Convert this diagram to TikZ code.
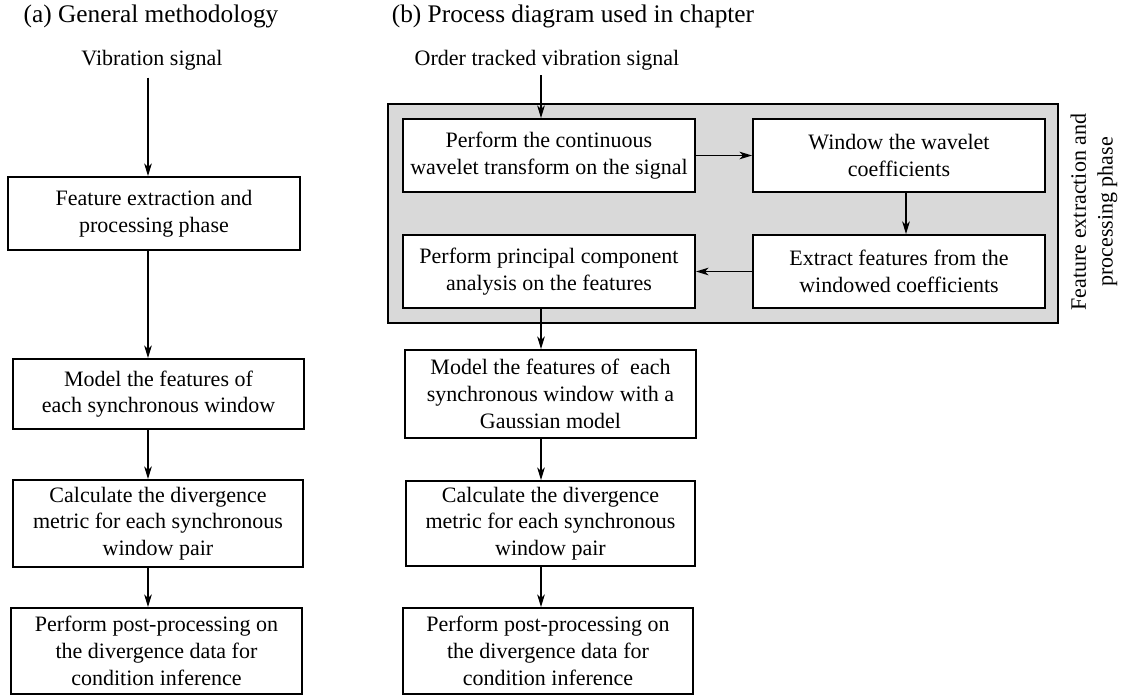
\documentclass[tikz,border=0pt]{standalone}
\usepackage{fontspec}
\setmainfont{Liberation Serif}
\usetikzlibrary{arrows.meta,calc}
\definecolor{panelgray}{RGB}{217,217,217}
\begin{document}
\begin{tikzpicture}[x=0.6pt,y=-0.6pt,
  box/.style={draw=black,line width=1.1pt,fill=white,inner sep=0pt,align=center,
    font=\fontsize{13.2}{16}\selectfont},
  sz/.style 2 args={minimum width=#1*0.6pt,minimum height=#2*0.6pt},
  lbl/.style={inner sep=0pt,align=center,font=\fontsize{13.2}{16}\selectfont},
  ttl/.style={inner sep=0pt,font=\fontsize{15.2}{18}\selectfont},
  arr/.style={line width=1pt,-{Stealth[length=7.5pt,width=4.5pt,inset=2pt]}},
  panel/.style={draw=black,line width=1.1pt,fill=panelgray}]
\useasboundingbox (0,0) rectangle (1132,695);

% titles
\node[ttl,anchor=base] (ta) at (151,22) {(a) General methodology};
\node[ttl,anchor=base] (tb) at (573,22) {(b) Process diagram used in chapter};

% ---------- (a) ----------
\coordinate (xa) at (148,0);
\node[lbl,anchor=base] (sigA) at (152,65) {Vibration signal};
\node[box,sz={292}{73}] (a1) at (154,213.5) {Feature extraction and\\processing phase};
\node[box,sz={291}{70}] (a2) at (158.5,394) {Model the features of\\each synchronous window};
\node[box,sz={290}{87}] (a3) at (158,523.5) {Calculate the divergence\\metric for each synchronous\\window pair};
\node[box,sz={291}{86}] (a4) at (156.5,651) {Perform post-processing on\\the divergence data for\\condition inference};

\draw[arr,shorten <=4.5pt] (sigA.south -| xa) -- (a1.north -| xa);
\draw[arr] (a1.south -| xa) -- (a2.north -| xa);
\draw[arr] (a2.south -| xa) -- (a3.north -| xa);
\draw[arr] (a3.south -| xa) -- (a4.north -| xa);

% ---------- (b) ----------
\coordinate (xb) at (541,0);
\node[lbl,anchor=base] (sigB) at (547,65) {Order tracked vibration signal};
\node[panel,inner sep=0pt,sz={670}{219}] (pan) at (723,213.5) {};
\node[lbl,rotate=90] (plbl) at (1094,212) {Feature extraction and\\processing phase};

\node[box,sz={292}{73}] (b1) at (549,155.5) {Perform the continuous\\wavelet transform on the signal};
\node[box,sz={292}{73}] (b2) at (899,155.5) {Window the wavelet\\coefficients};
\node[box,sz={292}{73}] (b3) at (899,271.5) {Extract features from the\\windowed coefficients};
\node[box,sz={292}{73}] (b4) at (549,271.5) {Perform principal component\\analysis on the features};
\node[box,sz={291}{88}] (b5) at (550.5,394) {Model the features of\ \ each\\synchronous window with a\\Gaussian model};
\node[box,sz={289}{85}] (b6) at (550.5,523.5) {Calculate the divergence\\metric for each synchronous\\window pair};
\node[box,sz={290}{86}] (b7) at (548,651) {Perform post-processing on\\the divergence data for\\condition inference};

\draw[arr,shorten <=3pt] (sigB.south -| xb) -- (b1.north -| xb);
\draw[arr] (b1.east) -- (b2.west);
\draw[arr] (b2.south -| 906,0) -- (b3.north -| 906,0);
\draw[arr] (b3.west) -- (b4.east);
\draw[arr] (b4.south -| xb) -- (b5.north -| xb);
\draw[arr] (b5.south -| xb) -- (b6.north -| xb);
\draw[arr] (b6.south -| xb) -- (b7.north -| xb);
\end{tikzpicture}
\end{document}
